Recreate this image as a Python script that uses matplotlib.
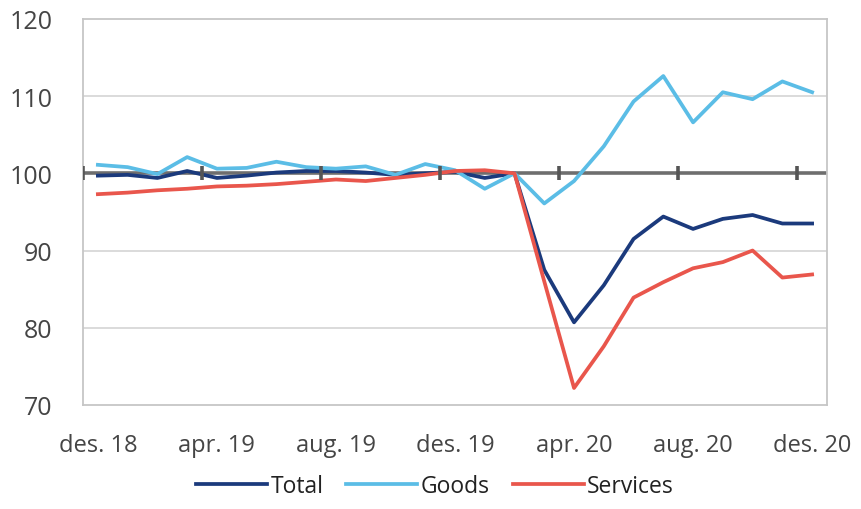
import numpy as np
import matplotlib.pyplot as plt

# monthly index, des. 18 - des. 20
months = ['des. 18', 'jan. 19', 'feb. 19', 'mar. 19', 'apr. 19', 'mai. 19', 'jun. 19',
          'jul. 19', 'aug. 19', 'sep. 19', 'okt. 19', 'nov. 19', 'des. 19',
          'jan. 20', 'feb. 20', 'mar. 20', 'apr. 20', 'mai. 20', 'jun. 20',
          'jul. 20', 'aug. 20', 'sep. 20', 'okt. 20', 'nov. 20', 'des. 20']
total = [99.7, 99.8, 99.4, 100.3, 99.4, 99.7, 100.1, 100.3, 100.3, 100.1, 99.8, 100.0, 100.2,
         99.4, 100.0, 87.5, 80.7, 85.5, 91.5, 94.4, 92.8, 94.1, 94.6, 93.5, 93.5]
goods = [101.1, 100.8, 99.9, 102.1, 100.6, 100.7, 101.5, 100.8, 100.6, 100.9, 99.8, 101.2, 100.4,
         98.0, 100.0, 96.1, 99.0, 103.5, 109.3, 112.6, 106.6, 110.5, 109.6, 111.9, 110.5]
services = [97.3, 97.5, 97.8, 98.0, 98.3, 98.4, 98.6, 98.9, 99.2, 99.0, 99.4, 99.8, 100.3,
            100.4, 100.0, 86.0, 72.2, 77.6, 83.9, 85.9, 87.7, 88.5, 90.0, 86.5, 86.9]
label_idx = [0, 4, 8, 12, 16, 20, 24]
tick_pos = [-0.5, 3.5, 7.5, 11.5, 15.5, 19.5, 23.5]

plt.rcParams['font.family'] = ['Open Sans', 'DejaVu Sans']
txt = '#454545'

fig = plt.figure(figsize=(8.61, 5.10), dpi=100)
ax = fig.add_axes([0.0964, 0.204, 0.8641, 0.757])

x = np.arange(len(months))

ax.set_ylim(70, 120)
ax.set_xlim(-0.5, len(months) - 0.5)
ax.set_yticks([70, 80, 90, 100, 110, 120])
for yv in [80, 90, 110]:
    ax.axhline(yv, color='#d4d4d4', lw=1.2, zorder=1)
ax.axhline(100, color='#6e6e6e', lw=2.6, zorder=2)
ax.plot(tick_pos, [100] * len(tick_pos), ls='none', marker='|', ms=10, mew=2.6,
        color='#555555', zorder=5)

ax.plot(x, total, color='#1b3a7c', lw=2.7, label='Total', zorder=3)
ax.plot(x, goods, color='#5bbde6', lw=2.7, label='Goods', zorder=3)
ax.plot(x, services, color='#e9564c', lw=2.7, label='Services', zorder=3)

ax.set_xticks([x[i] for i in label_idx])
ax.set_xticklabels([months[i] for i in label_idx])
ax.tick_params(axis='x', length=0, pad=20, labelsize=17, labelcolor=txt)
ax.tick_params(axis='y', length=0, pad=22, labelsize=18, labelcolor=txt)

for s in ax.spines.values():
    s.set_color('#c6c6c6')
    s.set_linewidth(1.3)

fig.legend(loc='lower center', bbox_to_anchor=(0.505, -0.018), ncol=3, frameon=False,
           fontsize=16.5, handlelength=3.1, handletextpad=0.15, columnspacing=1.0,
           labelcolor='#222222')

fig.savefig('out.png', dpi=100)
